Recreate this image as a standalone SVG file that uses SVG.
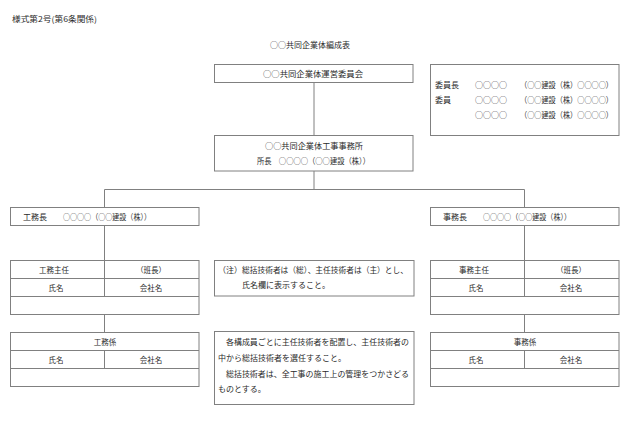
<svg xmlns="http://www.w3.org/2000/svg" width="630" height="440" viewBox="0 0 630 440">
<style>
rect.b{fill:#fff;stroke:#808080;stroke-width:1}
line.c{stroke:#808080;stroke-width:1}
.t{font-family:"Noto Sans CJK JP","Noto Sans CJK SC",sans-serif;font-size:8px;fill:#2a2a2a}
.s{font-size:7.5px}
.m{text-anchor:middle}
</style>
<rect width="630" height="440" fill="#fff"/>
<text class="t" x="12" y="22" textLength="85" lengthAdjust="spacingAndGlyphs">様式第2号(第6条関係)</text>
<text class="t m" x="310" y="48">○○共同企業体編成表</text>

<g id="connectors">
<line class="c" x1="314" y1="82.5" x2="314" y2="135.5"/>
<line class="c" x1="314" y1="171" x2="314" y2="189.5"/>
<line class="c" x1="104.5" y1="189.5" x2="524.5" y2="189.5"/>
<line class="c" x1="104.5" y1="189.5" x2="104.5" y2="207.5"/>
<line class="c" x1="524.5" y1="189.5" x2="524.5" y2="207.5"/>
<line class="c" x1="104.5" y1="225.5" x2="104.5" y2="260.5"/>
<line class="c" x1="524.5" y1="225.5" x2="524.5" y2="260.5"/>
<line class="c" x1="104.5" y1="314.5" x2="104.5" y2="332.5"/>
<line class="c" x1="524.5" y1="314.5" x2="524.5" y2="332.5"/>
</g>

<g id="committee">
<rect class="b" x="214.5" y="64.5" width="198.5" height="18"/>
<text class="t" x="263" y="76.5" textLength="100" lengthAdjust="spacingAndGlyphs">○○共同企業体運営委員会</text>
</g>

<g id="members">
<rect class="b" x="430.5" y="64.5" width="188.5" height="71"/>
<text class="t" x="435" y="88">委員長</text>
<text class="t" x="475" y="88">○○○○</text>
<text class="t" x="520" y="88" textLength="93" lengthAdjust="spacingAndGlyphs">（○○建設（株）○○○○）</text>
<text class="t" x="435" y="103">委員</text>
<text class="t" x="475" y="103">○○○○</text>
<text class="t" x="520" y="103" textLength="93" lengthAdjust="spacingAndGlyphs">（○○建設（株）○○○○）</text>
<text class="t" x="475" y="118">○○○○</text>
<text class="t" x="520" y="118" textLength="93" lengthAdjust="spacingAndGlyphs">（○○建設（株）○○○○）</text>
</g>

<g id="office">
<rect class="b" x="214.5" y="135.5" width="198.5" height="35.5"/>
<text class="t" x="265" y="149" textLength="98" lengthAdjust="spacingAndGlyphs">○○共同企業体工事事務所</text>
<text class="t" x="257" y="164" textLength="113" lengthAdjust="spacingAndGlyphs">所長　○○○○（○○建設（株））</text>
</g>

<g id="koumu-chief">
<rect class="b" x="10.5" y="207.5" width="188.5" height="18"/>
<text class="t" x="23" y="219.5">工務長</text>
<text class="t" x="63" y="219.5" textLength="88" lengthAdjust="spacingAndGlyphs">○○○○（○○建設（株））</text>
</g>

<g id="jimu-chief">
<rect class="b" x="430.5" y="207.5" width="188.5" height="18"/>
<text class="t" x="443" y="219.5">事務長</text>
<text class="t" x="483" y="219.5" textLength="88" lengthAdjust="spacingAndGlyphs">○○○○（○○建設（株））</text>
</g>

<g id="koumu-shunin">
<rect class="b" x="10.5" y="260.5" width="188.5" height="54"/>
<line class="c" x1="10.5" y1="278.5" x2="199" y2="278.5"/>
<line class="c" x1="10.5" y1="296.5" x2="199" y2="296.5"/>
<line class="c" x1="104.5" y1="260.5" x2="104.5" y2="296.5"/>
<text class="t s m" x="54" y="272.5">工務主任</text>
<text class="t s m" x="151" y="272.5">（班長）</text>
<text class="t s m" x="56" y="290.5">氏名</text>
<text class="t s m" x="151" y="290.5">会社名</text>
</g>

<g id="jimu-shunin">
<rect class="b" x="430.5" y="260.5" width="188.5" height="54"/>
<line class="c" x1="430.5" y1="278.5" x2="619" y2="278.5"/>
<line class="c" x1="430.5" y1="296.5" x2="619" y2="296.5"/>
<line class="c" x1="524.5" y1="260.5" x2="524.5" y2="296.5"/>
<text class="t s m" x="474" y="272.5">事務主任</text>
<text class="t s m" x="571" y="272.5">（班長）</text>
<text class="t s m" x="476" y="290.5">氏名</text>
<text class="t s m" x="571" y="290.5">会社名</text>
</g>

<g id="koumu-kakari">
<rect class="b" x="10.5" y="332.5" width="188.5" height="54"/>
<line class="c" x1="10.5" y1="350.5" x2="199" y2="350.5"/>
<line class="c" x1="10.5" y1="368.5" x2="199" y2="368.5"/>
<line class="c" x1="104.5" y1="350.5" x2="104.5" y2="368.5"/>
<text class="t s m" x="105" y="344.5">工務係</text>
<text class="t s m" x="56" y="362.5">氏名</text>
<text class="t s m" x="151" y="362.5">会社名</text>
</g>

<g id="jimu-kakari">
<rect class="b" x="430.5" y="332.5" width="188.5" height="54"/>
<line class="c" x1="430.5" y1="350.5" x2="619" y2="350.5"/>
<line class="c" x1="430.5" y1="368.5" x2="619" y2="368.5"/>
<line class="c" x1="524.5" y1="350.5" x2="524.5" y2="368.5"/>
<text class="t s m" x="525" y="344.5">事務係</text>
<text class="t s m" x="476" y="362.5">氏名</text>
<text class="t s m" x="571" y="362.5">会社名</text>
</g>

<g id="note1">
<rect class="b" x="214.5" y="260.5" width="199.5" height="35.5"/>
<text class="t" x="218" y="273">（注）</text>
<text class="t" x="242" y="273" textLength="166" lengthAdjust="spacingAndGlyphs">総括技術者は（総）、主任技術者は（主）とし、</text>
<text class="t" x="242" y="287.5">氏名欄に表示すること。</text>
</g>

<g id="note2">
<rect class="b" x="214.5" y="331.5" width="199.5" height="73"/>
<text class="t" x="226" y="344.5" textLength="183" lengthAdjust="spacingAndGlyphs">各構成員ごとに主任技術者を配置し、主任技術者の</text>
<text class="t" x="218" y="361">中から総括技術者を選任すること。</text>
<text class="t" x="226" y="377" textLength="183" lengthAdjust="spacingAndGlyphs">総括技術者は、全工事の施工上の管理をつかさどる</text>
<text class="t" x="218" y="392">ものとする。</text>
</g>
</svg>
